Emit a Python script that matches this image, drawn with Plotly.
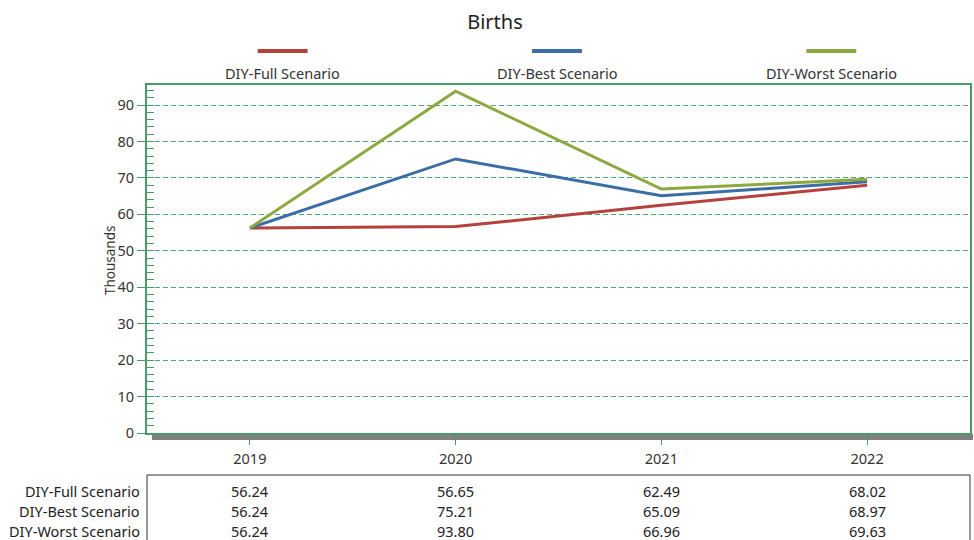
import plotly.graph_objects as go

years = ["2019", "2020", "2021", "2022"]
series_names = ["DIY-Full Scenario", "DIY-Best Scenario", "DIY-Worst Scenario"]
full_vals = [56.24, 56.65, 62.49, 68.02]
best_vals = [56.24, 75.21, 65.09, 68.97]
worst_vals = [56.24, 93.80, 66.96, 69.63]
colors = ["#b5413f", "#3b6ea5", "#8da83f"]

all_vals = [full_vals, best_vals, worst_vals]

W, H = 974, 540
L = 147
T = 85
RIGHT = 972
BOTTOM = 433
R = W - RIGHT
B = H - BOTTOM
pw = RIGHT - L
ph = BOTTOM - T

def px_x(x):
    return (x - L) / pw

def px_y(y):
    return (BOTTOM - y) / ph

def cat_x(i):
    return (i + 0.5) / len(years)

GREEN = "#4a9a68"
GRID = "#4fa672"
FONT = "Noto Sans"
TXT = 14.5

fig = go.Figure()
for name, vals, c in zip(series_names, all_vals, colors):
    fig.add_trace(go.Scatter(x=years, y=vals, mode="lines", name=name,
                             line=dict(color=c, width=3), showlegend=False,
                             hoverinfo="skip"))

shapes = []
annotations = []

# custom legend (swatch above text)
leg_centers = [283, 558, 833]
for name, c, cx in zip(series_names, colors, leg_centers):
    shapes.append(dict(type="line", xref="paper", yref="paper",
                       x0=px_x(cx - 25), x1=px_x(cx + 25), y0=px_y(51), y1=px_y(51),
                       line=dict(color=c, width=4)))
    annotations.append(dict(text=name, xref="paper", yref="paper", x=px_x(cx), y=px_y(73),
                            showarrow=False, xanchor="center", yanchor="middle",
                            font=dict(size=TXT, color="#333333", family=FONT)))

# gray shadow under x axis
shapes.append(dict(type="rect", xref="paper", yref="paper",
                   x0=px_x(152), x1=px_x(975), y0=px_y(440), y1=px_y(434),
                   fillcolor="#808080", line=dict(width=0), layer="below"))

# y axis title
annotations.append(dict(text="Thousands", xref="paper", yref="paper", x=px_x(110), y=px_y(260),
                        textangle=-90, showarrow=False, xanchor="center", yanchor="middle",
                        font=dict(size=13.5, color="#333333", family=FONT)))

# data table
shapes.append(dict(type="rect", xref="paper", yref="paper",
                   x0=0, x1=1, y0=px_y(570), y1=px_y(475),
                   line=dict(color="#333333", width=1), fillcolor="rgba(0,0,0,0)"))
row_y = [491, 511, 531]
for name, vals, ry in zip(series_names, all_vals, row_y):
    annotations.append(dict(text=name, xref="paper", yref="paper", x=px_x(142), y=px_y(ry),
                            showarrow=False, xanchor="right", yanchor="middle",
                            font=dict(size=TXT, color="#222222", family=FONT)))
    for i, v in enumerate(vals):
        annotations.append(dict(text=f"{v:.2f}", xref="paper", yref="paper", x=cat_x(i), y=px_y(ry),
                                showarrow=False, xanchor="center", yanchor="middle",
                                font=dict(size=TXT, color="#222222", family=FONT)))

fig.update_layout(
    width=W, height=H,
    margin=dict(l=L, r=R, t=T, b=B),
    paper_bgcolor="white", plot_bgcolor="white",
    hovermode=False,
    title=dict(text="Births", xref="container", x=495 / W, xanchor="center",
               yref="container", y=1 - 22 / H, yanchor="middle",
               font=dict(size=20, color="#222222", family=FONT)),
    font=dict(family=FONT, color="#333333"),
    shapes=shapes, annotations=annotations,
    xaxis=dict(type="category", range=[-0.5, 3.5], showgrid=False,
               showline=True, linecolor=GREEN, linewidth=2, mirror=True,
               ticks="outside", ticklen=10, tickcolor=GREEN, tickwidth=1,
               tickfont=dict(size=14.5, color="#333333"), ticklabelstandoff=2),
    yaxis=dict(range=[0, 95.5], dtick=10, tick0=0, showgrid=True,
               gridcolor=GRID, griddash="5px,3px", gridwidth=1, zeroline=False,
               showline=True, linecolor=GREEN, linewidth=2, mirror=True,
               ticks="outside", ticklen=8, tickcolor=GREEN, tickwidth=1,
               tickfont=dict(size=14.5, color="#333333"),
               minor=dict(dtick=2, ticks="inside", ticklen=7, tickcolor=GREEN, showgrid=False)),
)

fig.write_html("out.html",
               config={"displayModeBar": False, "staticPlot": True},
               post_script="document.body.style.margin='0';document.body.style.overflow='hidden';")
